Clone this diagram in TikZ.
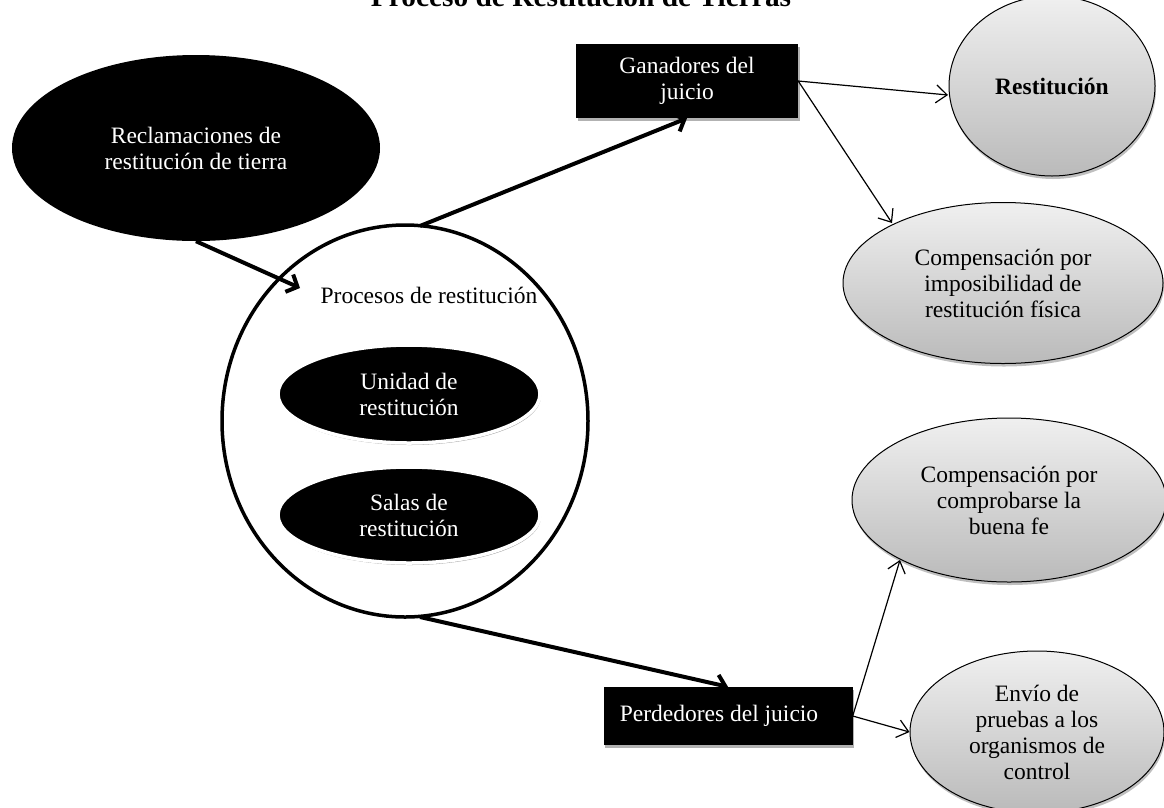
\documentclass[tikz,border=0pt]{standalone}
\usepackage{fontspec}
\setmainfont{Liberation Serif}
\usetikzlibrary{arrows.meta,shapes.geometric,shadows}
\begin{document}
\begin{tikzpicture}[x=1pt,y=-1pt,
  txt/.style={font=\fontsize{23.5}{26}\selectfont, align=center},
  blackell/.style={ellipse, fill=black, text=white, inner sep=0pt, txt},
  innerell/.style={blackell, draw=white, line width=3.5pt,
     drop shadow={shadow xshift=1pt, shadow yshift=-2pt, opacity=0.35, fill=black}},
  greyell/.style={ellipse, draw=black, line width=1pt, top color=black!6, bottom color=black!27,
     inner sep=0pt, txt, drop shadow={shadow xshift=1pt, shadow yshift=-3pt, opacity=0.25, fill=black}},
  blackbox/.style={rectangle, fill=black, text=white, inner sep=0pt, txt,
     drop shadow={shadow xshift=1.5pt, shadow yshift=-2.5pt, opacity=0.3, fill=black}},
  bigarrow/.style={line width=4pt, -{Straight Barb[length=9pt,width=19pt]}},
  smallarrow/.style={line width=1.2pt, -{Straight Barb[length=11pt,width=18pt]}}
]
\fill[white] (0,0) rectangle (1164,807);
\useasboundingbox (0,0) rectangle (1164,807);

\node[anchor=base, font=\bfseries\fontsize{29.4}{31}\selectfont] (title) at (581,6) {Proceso de Restitución de Tierras};

\node[blackell, minimum width=368pt, minimum height=186pt] (recl) at (196,148) {Reclamaciones de\\restitución de tierra};

\node[ellipse, draw=black, line width=3.5pt, minimum width=366pt, minimum height=392pt, inner sep=0pt] (proc) at (405,421) {};
\node[txt] (proclbl) at (429,295) {Procesos de restitución};
\node[innerell, minimum width=262pt, minimum height=98pt] (unid) at (409,394) {Unidad de\\restitución};
\node[innerell, minimum width=262pt, minimum height=96pt] (salas) at (409,515) {Salas de\\restitución};

\node[blackbox, minimum width=222pt, minimum height=74pt] (gan) at (687,81) {Ganadores del\\juicio};
\node[blackbox, minimum width=249pt, minimum height=58pt] (perd) at (728,716) {Perdedores del juicio\hspace*{18pt}};

\node[greyell, minimum width=206pt, minimum height=180pt] (rest) at (1052,86) {\raisebox{-10pt}{\bfseries Restitución}};
\node[greyell, minimum width=320pt, minimum height=161pt] (imp) at (1003,283) {Compensación por\\imposibilidad de\\restitución física};
\node[greyell, minimum width=314pt, minimum height=164pt] (buena) at (1009,500) {Compensación por\\comprobarse la\\buena fe};
\node[greyell, minimum width=254pt, minimum height=162pt] (envio) at (1037,732) {Envío de\\pruebas a los\\organismos de\\control};

\draw[bigarrow] (recl.south) -- ([shift={(-105,-133)}]proc.center);
\draw[bigarrow] ([shift={(15,-195)}]proc.center) -- (gan.south);
\draw[bigarrow] ([shift={(15,196)}]proc.center) -- (perd.north);

\draw[smallarrow] (gan.east) -- ([shift={(-104,9)}]rest.center);
\draw[smallarrow] (gan.east) -- ([shift={(-111,-60)}]imp.center);
\draw[smallarrow] (perd.east) -- ([shift={(-109,60)}]buena.center);
\draw[smallarrow] (perd.east) -- (envio.west);
\end{tikzpicture}
\end{document}
